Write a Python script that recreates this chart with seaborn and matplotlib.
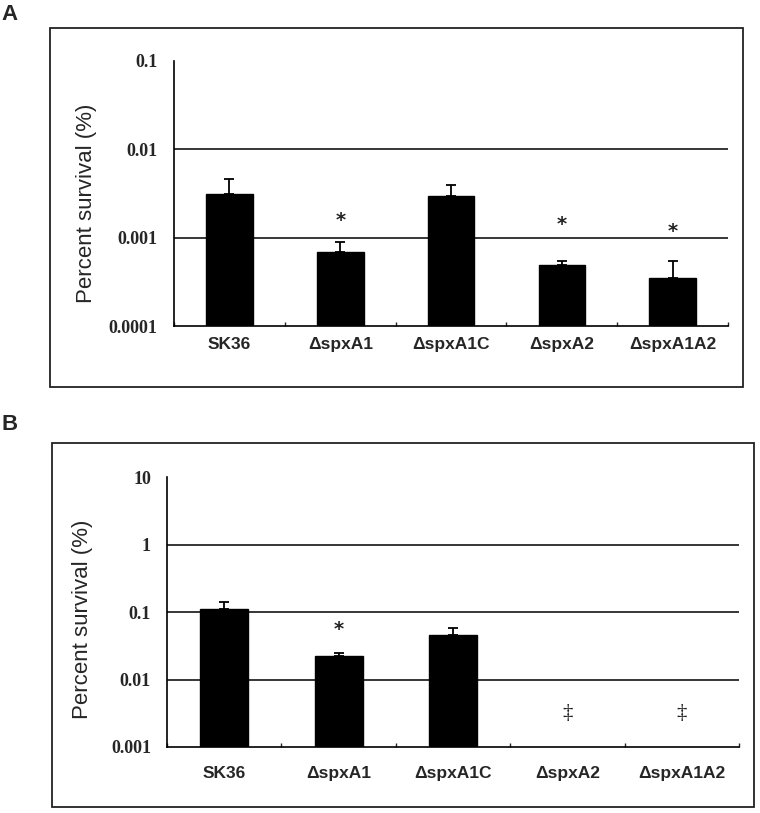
import numpy as np
import pandas as pd
import matplotlib
matplotlib.use("Agg")
import matplotlib.pyplot as plt
from matplotlib.patches import Rectangle
from matplotlib.ticker import FixedLocator, NullFormatter
import seaborn as sns

# Strains (x categories)
strains = ["SK36", "\u0394spxA1", "\u0394spxA1C", "\u0394spxA2", "\u0394spxA1A2"]

# Panel A values (percent survival) and upper error
survival_a = [0.0031, 0.00068, 0.0030, 0.00049, 0.00035]
error_a = [0.0015, 0.00022, 0.0009, 0.00005, 0.00019]
star_a = [np.nan, 0.00158, np.nan, 0.00141, 0.00117]
yticks_a = [0.0001, 0.001, 0.01, 0.1]
ylabels_a = ["0.0001", "0.001", "0.01", "0.1"]

# Panel B values (no survivors for the last two strains)
survival_b = [0.112, 0.0223, 0.046, np.nan, np.nan]
error_b = [0.028, 0.0023, 0.011, np.nan, np.nan]
star_b = [np.nan, 0.056, np.nan, np.nan, np.nan]
dagger_b = [np.nan, np.nan, np.nan, 0.0031, 0.0031]
yticks_b = [0.001, 0.01, 0.1, 1, 10]
ylabels_b = ["0.001", "0.01", "0.1", "1", "10"]

sns.set_style("white")
plt.rcParams["font.family"] = ["Liberation Sans", "DejaVu Sans"]

fig = plt.figure(figsize=(7.6, 8.13), dpi=100)

# Outer frames around each panel
fig.patches.append(Rectangle((0.0658, 0.524), 0.912, 0.4416, transform=fig.transFigure,
                             fill=False, edgecolor="#222222", linewidth=1.3))
fig.patches.append(Rectangle((0.0684, 0.0074), 0.9237, 0.4477, transform=fig.transFigure,
                             fill=False, edgecolor="#222222", linewidth=1.3))
fig.text(0.002, 0.982, "A", fontsize=16, fontweight="bold", va="center", ha="left")
fig.text(0.002, 0.478, "B", fontsize=16, fontweight="bold", va="center", ha="left")

ax_a = fig.add_axes([0.229, 0.599, 0.729, 0.326])
ax_b = fig.add_axes([0.2197, 0.0812, 0.7526, 0.332])


def draw_panel(ax, values, errs, stars, yticks, ylabels, xpad, ylpad, label_xy, daggers=None):
    df = pd.DataFrame({"strain": strains, "survival": values})
    ax.set_yscale("log")
    sns.barplot(data=df, x="strain", y="survival", order=strains, color="black",
                width=0.42, saturation=1, edgecolor="black", ax=ax)
    xs = np.arange(len(strains))
    vals = np.array(values, dtype=float)
    ers = np.array(errs, dtype=float)
    ok = ~np.isnan(vals)
    ax.errorbar(xs[ok], vals[ok], yerr=[np.zeros(ok.sum()), ers[ok]], fmt="none",
                ecolor="black", elinewidth=1.3, capsize=3.8, capthick=1.3, zorder=4)
    for x, s in zip(xs, stars):
        if not np.isnan(s):
            ax.text(x, s, "*", ha="center", va="center", fontsize=14, fontweight="bold",
                    family="DejaVu Sans", color="#222222")
    if daggers is not None:
        for x, d in zip(xs, daggers):
            if not np.isnan(d):
                ax.text(x, d, "\u2021", ha="center", va="center", fontsize=15,
                        family="Liberation Serif", color="#222222")

    ax.set_ylim(yticks[0], yticks[-1])
    ax.set_xlim(-0.5, len(strains) - 0.5)
    ax.yaxis.set_major_locator(FixedLocator(yticks))
    ax.yaxis.set_minor_locator(FixedLocator([]))
    ax.set_yticklabels(ylabels, fontweight="bold", family="Liberation Serif", fontsize=13)
    ax.tick_params(axis="y", which="major", direction="in", length=4, width=1, pad=ylpad)
    ax.set_xticks(xs)
    ax.set_xticklabels(strains, fontweight="bold", fontsize=12.5)
    ax.tick_params(axis="x", which="major", length=0, pad=xpad)
    ax.xaxis.set_minor_locator(FixedLocator(np.arange(len(strains) + 1) - 0.5))
    ax.xaxis.set_minor_formatter(NullFormatter())
    ax.tick_params(axis="x", which="minor", direction="in", length=3, width=1, bottom=True)

    ax.grid(axis="y", color="black", linewidth=1.1)
    ax.set_axisbelow(True)
    grids = ax.get_ygridlines()
    grids[0].set_visible(False)
    grids[-1].set_visible(False)

    for side in ["top", "right"]:
        ax.spines[side].set_visible(False)
    for side in ["left", "bottom"]:
        ax.spines[side].set_color("black")
        ax.spines[side].set_linewidth(1.2)

    ax.set_xlabel("")
    ax.set_ylabel("Percent survival (%)", fontsize=16)
    ax.yaxis.set_label_coords(*label_xy)


draw_panel(ax_a, survival_a, error_a, star_a, yticks_a, ylabels_a,
           xpad=8, ylpad=12, label_xy=(-0.139, 0.464))
draw_panel(ax_b, survival_b, error_b, star_b, yticks_b, ylabels_b,
           xpad=14, ylpad=11.5, label_xy=(-0.129, 0.474), daggers=dagger_b)

fig.savefig("out.png", dpi=100)
